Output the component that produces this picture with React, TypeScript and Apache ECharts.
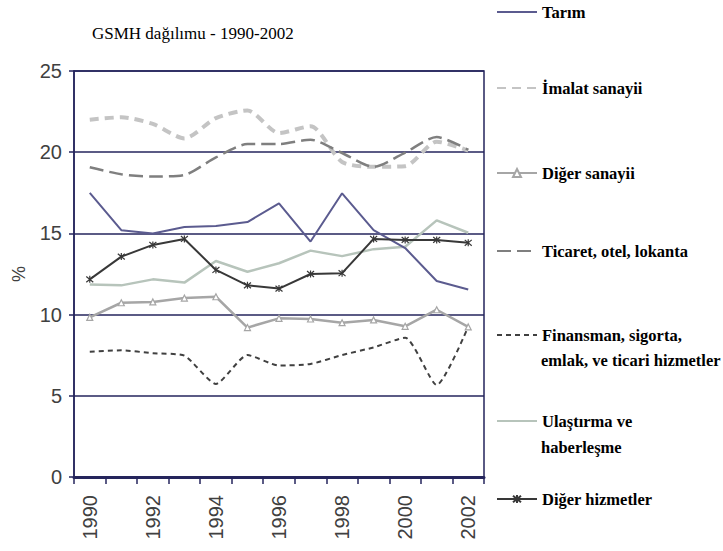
import React, { useEffect, useRef } from "react";
import * as echarts from "echarts";

const years = ["1990","1991","1992","1993","1994","1995","1996","1997","1998","1999","2000","2001","2002"];
const yTicks = [0, 5, 10, 15, 20, 25];

const tarim = [17.5, 15.2, 15.0, 15.4, 15.45, 15.7, 16.85, 14.5, 17.47, 15.2, 14.1, 12.07, 11.55];
const imalat = [22.0, 22.15, 21.74, 20.85, 22.1, 22.57, 21.18, 21.6, 19.4, 19.1, 19.14, 20.65, 20.1];
const digerSanayi = [9.83, 10.73, 10.78, 11.02, 11.1, 9.2, 9.77, 9.73, 9.5, 9.67, 9.28, 10.3, 9.24];
const ticaret = [19.07, 18.64, 18.5, 18.6, 19.68, 20.5, 20.5, 20.77, 19.95, 19.1, 19.98, 20.93, 20.15];
const finansman = [7.72, 7.8, 7.62, 7.47, 5.73, 7.51, 6.86, 6.96, 7.51, 7.98, 8.58, 5.66, 9.26];
const ulastirma = [11.86, 11.8, 12.17, 11.97, 13.3, 12.64, 13.16, 13.94, 13.6, 14.03, 14.18, 15.8, 15.04];
const digerHizmet = [12.17, 13.57, 14.29, 14.66, 12.75, 11.8, 11.6, 12.5, 12.55, 14.66, 14.6, 14.6, 14.42];

const names = [
  "Tarım",
  "İmalat sanayii",
  "Diğer sanayii",
  "Ticaret, otel, lokanta",
  "Finansman, sigorta,",
  "Ulaştırma ve",
  "Diğer hizmetler",
];
const secondLines = ["", "", "", "", "emlak, ve ticari hizmetler", "haberleşme", ""];
const legendCenters = [12, 88, 173, 251, 335, 421, 499];
const secondLineCenters = [0, 0, 0, 0, 360, 447, 0];
const hasMarker = [false, false, true, false, false, false, true];

const NAVY = "#25255c";
const SERIF = "'Liberation Serif', serif";
const SANS = "Liberation Sans";

export default function App() {
  const ref = useRef<HTMLDivElement>(null);
  useEffect(() => {
    if (!ref.current) return;
    const chart = echarts.init(ref.current, null, { renderer: "svg" });
    const starPath = "path://M0,0L10,10M10,0L0,10M5,-1L5,11";
    const series: any[] = [
      {
        name: names[0], type: "line", data: tarim, symbol: "none",
        lineStyle: { color: "#5b5b8f", width: 2 }, itemStyle: { color: "#5b5b8f" }, z: 5,
      },
      {
        name: names[1], type: "line", data: imalat, symbol: "none", smooth: 0.25,
        lineStyle: { color: "#c4c4c4", width: 4, type: [9, 6] }, itemStyle: { color: "#c4c4c4" },
      },
      {
        name: names[2], type: "line", data: digerSanayi, symbol: "triangle", symbolSize: 6,
        lineStyle: { color: "#a6a6a6", width: 2.5 },
        itemStyle: { color: "#ffffff", borderColor: "#a6a6a6", borderWidth: 1.2 },
      },
      {
        name: names[3], type: "line", data: ticaret, symbol: "none", smooth: 0.25,
        lineStyle: { color: "#7f7f7f", width: 2.5, type: [14, 6] }, itemStyle: { color: "#7f7f7f" },
      },
      {
        name: names[4], type: "line", data: finansman, symbol: "none", smooth: 0.2,
        lineStyle: { color: "#404040", width: 2, type: [5, 4] }, itemStyle: { color: "#404040" },
      },
      {
        name: names[5], type: "line", data: ulastirma, symbol: "none",
        lineStyle: { color: "#b7c4bb", width: 2.5 }, itemStyle: { color: "#b7c4bb" },
      },
      {
        name: names[6], type: "line", data: digerHizmet, symbol: starPath, symbolSize: 7,
        lineStyle: { color: "#383838", width: 2 },
        itemStyle: { color: "#383838", borderColor: "#383838", borderWidth: 1.2 }, z: 6,
      },
    ];
    const legends = names.map((n, i) => ({
      data: [hasMarker[i] ? { name: n } : { name: n, itemStyle: { opacity: 0 } }],
      left: 496,
      top: legendCenters[i] - 9,
      padding: 0,
      itemWidth: 40,
      itemHeight: 10,
      selectedMode: false,
      textStyle: { fontFamily: SERIF, fontSize: 16.5, fontWeight: "bold", color: "#000", lineHeight: 18 },
    }));
    const graphics: any[] = [
      {
        type: "text", left: 92, top: 25,
        style: { text: "GSMH dağılımu - 1990-2002", fontFamily: SERIF, fontSize: 17, fill: "#000" },
      },
    ];
    secondLines.forEach((t, i) => {
      if (!t) return;
      graphics.push({
        type: "text", x: 541, y: secondLineCenters[i],
        style: { text: t, fontFamily: SERIF, fontSize: 16.5, fontWeight: "bold", fill: "#000", verticalAlign: "middle" },
      });
    });
    chart.setOption({
      animation: false,
      grid: { left: 74, right: 239, top: 71, bottom: 74, show: true, borderColor: NAVY, borderWidth: 1.5, backgroundColor: "transparent" },
      xAxis: {
        type: "category", data: years, boundaryGap: true,
        axisLine: { lineStyle: { color: NAVY, width: 3 } },
        axisTick: { show: true, interval: 0, length: 7, lineStyle: { color: NAVY, width: 1.5 } },
        axisLabel: { rotate: 90, interval: 1, margin: 18, fontFamily: SANS, fontSize: 20, color: "#404040" },
        splitLine: { show: false },
      },
      yAxis: {
        type: "value", min: yTicks[0], max: yTicks[yTicks.length - 1], interval: 5,
        name: "%", nameLocation: "middle", nameGap: 46, nameRotate: 90,
        nameTextStyle: { fontFamily: SANS, fontSize: 18, color: "#404040" },
        axisLine: { show: true, lineStyle: { color: NAVY, width: 1.5 } },
        axisTick: { show: true, length: 5, lineStyle: { color: NAVY, width: 1.5 } },
        axisLabel: { margin: 12, fontFamily: SANS, fontSize: 20, color: "#404040" },
        splitLine: { show: true, lineStyle: { color: NAVY, width: 1.5 } },
      },
      legend: legends,
      graphic: graphics,
      series,
    });
    return () => chart.dispose();
  }, []);
  return <div ref={ref} style={{ width: 723, height: 551, position: "absolute", left: 0, top: 0 }} />;
}
